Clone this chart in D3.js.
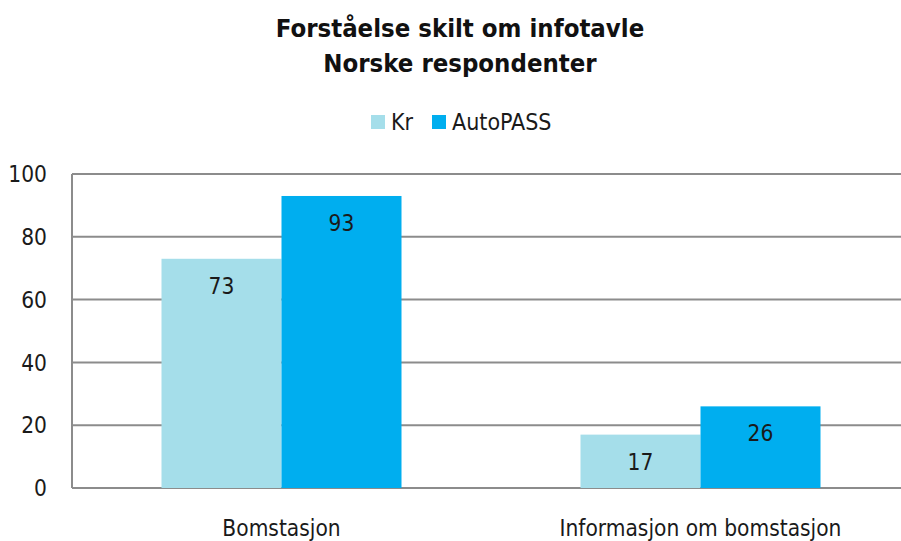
<!DOCTYPE html>
<html><head><meta charset="utf-8">
<script src="https://cdn.jsdelivr.net/npm/d3@7"></script>
<style>body{margin:0;background:#fff}svg{display:block}text{font-family:"DejaVu Sans Condensed","Roboto",sans-serif}</style>
</head><body><svg id="c" width="901" height="541"></svg>
<script>
const categories = ["Bomstasjon", "Informasjon om bomstasjon"];
const seriesNames = ["Kr", "AutoPASS"];
const krValues = [73, 17];
const autopassValues = [93, 26];
const yTicks = [0, 20, 40, 60, 80, 100];
const colors = ["#A5DEEA", "#00AEEF"];

const svg = d3.select("#c");
const pLeft = 72, pRight = 910, pTop = 174, pBottom = 488;
const x = d3.scaleBand().domain(categories).range([pLeft, pRight]).paddingInner(0).paddingOuter(0);
const y = d3.scaleLinear().domain([0, 100]).range([pBottom, pTop]);
const xs = d3.scaleBand().domain(seriesNames).range([0, 240]);
const series = [krValues, autopassValues];

// gridlines
svg.append("g").selectAll("line").data(yTicks).join("line")
  .attr("x1", pLeft).attr("x2", 901).attr("y1", d => y(d)).attr("y2", d => y(d))
  .attr("stroke", "#8c8c8c").attr("stroke-width", 2);
svg.append("line").attr("x1", pLeft).attr("x2", pLeft).attr("y1", pTop).attr("y2", pBottom)
  .attr("stroke", "#8c8c8c").attr("stroke-width", 2);
// y tick labels
svg.append("g").selectAll("text").data(yTicks).join("text")
  .attr("x", 47).attr("y", d => y(d)).attr("dy", "0.36em").attr("text-anchor", "end")
  .attr("font-size", 22.5).attr("fill", "#1a1a1a").text(d => d);

// bars
categories.forEach((c, i) => {
  const g = svg.append("g").attr("transform", `translate(${x(c) + x.bandwidth()/2 - 120},0)`);
  seriesNames.forEach((s, j) => {
    const v = series[j][i];
    g.append("rect").attr("x", xs(s)).attr("width", xs.bandwidth())
      .attr("y", y(v)).attr("height", y(0) - y(v)).attr("fill", colors[j]);
    g.append("text").attr("x", xs(s) + xs.bandwidth()/2).attr("y", y(v) + 27)
      .attr("dy", "0.36em").attr("text-anchor", "middle").attr("font-size", 22.5)
      .attr("fill", "#1a1a1a").text(v);
  });
  svg.append("text").attr("x", x(c) + x.bandwidth()/2).attr("y", 528).attr("dy", "0.36em")
    .attr("text-anchor", "middle").attr("font-size", 22.5).attr("fill", "#1a1a1a").text(c);
});

// title
svg.append("text").attr("x", 460).attr("y", 28).attr("dy", "0.36em").attr("text-anchor", "middle")
  .attr("font-size", 25.5).attr("font-weight", "bold").attr("fill", "#111").text("Forståelse skilt om infotavle");
svg.append("text").attr("x", 460).attr("y", 63).attr("dy", "0.36em").attr("text-anchor", "middle")
  .attr("font-size", 25.5).attr("font-weight", "bold").attr("fill", "#111").text("Norske respondenter");

// legend
const legX = [371, 432];
seriesNames.forEach((s, j) => {
  svg.append("rect").attr("x", legX[j]).attr("y", 115).attr("width", 14).attr("height", 14).attr("fill", colors[j]);
  svg.append("text").attr("x", legX[j] + 20).attr("y", 122).attr("dy", "0.36em")
    .attr("font-size", 23).attr("fill", "#1a1a1a").text(s);
});
</script></body></html>
